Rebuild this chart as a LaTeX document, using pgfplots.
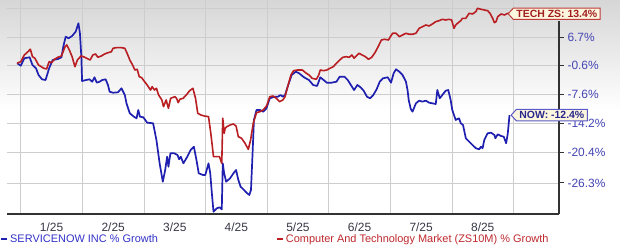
\documentclass[border=0pt]{standalone}
\usepackage{pgfplots}
\pgfplotsset{compat=1.18}
\usepackage{pgfplotstable}
\usepackage{fontspec}
\setmainfont{Liberation Sans}
\usetikzlibrary{shapes.symbols}
\definecolor{nowline}{RGB}{32,32,176}
\definecolor{techline}{RGB}{185,30,35}
\definecolor{ylab}{RGB}{68,68,180}
\definecolor{xlab}{RGB}{55,55,70}
\definecolor{legblue}{RGB}{50,50,200}
\definecolor{legred}{RGB}{190,40,45}
\definecolor{boxfill}{RGB}{253,246,222}
\definecolor{techborder}{RGB}{190,60,60}
\definecolor{techtext}{RGB}{160,30,30}
\definecolor{nowborder}{RGB}{90,90,200}
\definecolor{nowtext}{RGB}{40,40,140}
\definecolor{axisdark}{RGB}{50,50,50}
\definecolor{gridc}{RGB}{205,205,205}

\pgfplotstableread{
x y
-0.06 0.0
0.00 -0.65
0.057 1.25
0.143 1.51
0.19 -0.47
0.247 -1.30
0.288 -2.97
0.345 -4.03
0.402 -4.20
0.46 -1.30
0.517 0.81
0.603 1.07
0.66 1.51
0.69 4.29
0.729 6.98
0.776 6.54
0.833 7.17
0.891 8.34
0.936 10.69
0.96 7.91
0.983 1.66
0.995 -4.44
1.061 -4.20
1.115 -4.03
1.159 -4.61
1.197 -3.54
1.234 -4.85
1.279 -4.61
1.323 -4.20
1.377 -4.03
1.415 -5.41
1.443 -7.01
1.497 -7.25
1.579 -7.15
1.634 -6.20
1.689 -7.79
1.716 -9.72
1.77 -11.99
1.836 -12.74
1.88 -13.10
1.907 -11.24
1.934 -12.74
1.989 -12.88
2.052 -14.06
2.148 -14.20
2.202 -17.77
2.254 -22.50
2.306 -26.05
2.344 -23.82
2.376 -21.19
2.397 -23.17
2.429 -20.51
2.492 -20.51
2.544 -20.85
2.571 -21.71
2.598 -21.19
2.64 -22.50
2.703 -21.19
2.757 -19.84
2.81 -19.16
2.852 -21.85
2.889 -24.45
2.957 -24.78
2.995 -24.78
3.048 -22.50
3.076 -24.45
3.102 -28.21
3.129 -31.50
3.182 -30.90
3.226 -30.72
3.263 -31.08
3.279 -22.50
3.302 -24.45
3.334 -26.05
3.398 -25.41
3.452 -24.45
3.495 -23.82
3.532 -25.73
3.569 -26.99
3.613 -27.47
3.666 -28.10
3.71 -28.52
3.737 -27.60
3.763 -20.51
3.785 -13.47
3.827 -11.24
3.882 -11.24
3.935 -11.62
3.989 -10.86
4.043 -8.56
4.122 -8.18
4.175 -8.18
4.217 -7.79
4.254 -8.18
4.29 -7.79
4.333 -5.82
4.397 -2.97
4.465 -2.15
4.519 -2.55
4.598 -3.54
4.678 -4.20
4.746 -5.41
4.81 -5.65
4.837 -4.61
4.862 -3.54
4.916 -4.20
4.968 -4.85
5.047 -4.85
5.125 -4.61
5.177 -3.39
5.255 -3.39
5.308 -4.20
5.359 -5.41
5.411 -6.61
5.464 -5.41
5.516 -5.96
5.567 -6.78
5.62 -8.18
5.672 -8.56
5.723 -7.79
5.777 -6.44
5.828 -4.61
5.88 -3.78
5.958 -3.54
6.011 -4.85
6.053 -2.55
6.092 -1.55
6.145 -2.15
6.198 -2.97
6.253 -4.61
6.279 -6.61
6.298 -8.95
6.331 -11.01
6.36 -11.62
6.415 -9.72
6.468 -9.11
6.521 -9.34
6.576 -9.11
6.629 -9.58
6.682 -9.72
6.737 -9.88
6.763 -6.61
6.802 -8.56
6.844 -7.79
6.898 -6.78
6.94 -6.61
6.979 -8.95
7.005 -11.24
7.061 -13.47
7.115 -13.10
7.143 -14.20
7.18 -14.57
7.225 -17.41
7.279 -18.12
7.333 -18.81
7.389 -19.49
7.443 -19.70
7.471 -19.16
7.497 -19.49
7.525 -17.77
7.579 -16.36
7.635 -16.23
7.689 -16.72
7.705 -17.41
7.743 -16.57
7.798 -16.93
7.841 -17.08
7.88 -18.46
7.907 -16.36
7.934 -12.40
}\nowdata

\pgfplotstableread{
x y
-0.06 0.0
0.00 0.37
0.057 2.10
0.116 2.96
0.155 3.60
0.19 1.66
0.229 1.25
0.288 -0.47
0.374 -1.30
0.419 -1.48
0.46 0.37
0.5 0.12
0.547 0.99
0.603 1.51
0.66 1.84
0.719 4.29
0.747 4.74
0.788 3.41
0.833 1.66
0.879 -0.90
0.919 0.81
0.978 1.84
1.016 1.66
1.07 1.25
1.126 0.81
1.169 2.10
1.213 2.36
1.251 1.51
1.307 1.84
1.361 2.36
1.415 2.70
1.471 2.96
1.497 3.86
1.552 4.02
1.634 4.02
1.689 3.86
1.726 2.55
1.77 0.81
1.815 -0.47
1.852 -1.73
1.89 -1.55
1.923 -3.39
1.962 -3.63
1.989 -4.20
2.052 -5.41
2.106 -6.61
2.132 -5.82
2.17 -6.61
2.202 -6.20
2.238 -7.79
2.29 -8.95
2.317 -10.49
2.36 -8.95
2.397 -10.86
2.433 -8.56
2.503 -8.18
2.529 -8.56
2.556 -9.58
2.583 -8.79
2.635 -8.56
2.687 -7.79
2.741 -6.78
2.794 -6.20
2.837 -8.56
2.873 -11.99
2.925 -12.37
2.979 -12.59
3.048 -12.74
3.085 -16.36
3.129 -21.19
3.182 -21.19
3.226 -21.19
3.263 -22.50
3.279 -13.10
3.302 -16.36
3.318 -15.28
3.344 -14.94
3.398 -14.57
3.452 -14.35
3.495 -14.79
3.532 -17.08
3.585 -17.41
3.64 -18.46
3.694 -19.70
3.731 -17.77
3.774 -14.20
3.827 -11.85
3.882 -11.62
3.935 -11.24
3.989 -10.34
4.043 -8.18
4.095 -8.02
4.148 -8.56
4.202 -9.34
4.254 -8.95
4.29 -8.18
4.333 -5.82
4.386 -2.97
4.429 -1.90
4.492 -1.73
4.571 -1.73
4.624 -2.40
4.678 -2.97
4.73 -3.78
4.798 -4.03
4.837 -2.97
4.862 -1.73
4.916 -1.90
4.968 -1.73
5.02 -1.30
5.073 -0.90
5.125 -0.03
5.177 0.81
5.23 1.51
5.281 1.66
5.333 1.51
5.375 2.10
5.411 1.25
5.448 1.84
5.489 2.55
5.542 2.10
5.594 1.66
5.645 0.99
5.698 1.51
5.75 2.70
5.802 4.29
5.855 6.08
5.906 6.27
5.969 6.08
6.0 6.98
6.037 7.91
6.092 7.91
6.145 6.98
6.198 7.44
6.253 7.91
6.306 7.63
6.36 7.63
6.415 7.91
6.468 9.29
6.521 9.73
6.576 10.21
6.629 9.93
6.682 10.49
6.737 11.14
6.79 11.42
6.844 11.82
6.898 11.62
6.952 11.82
6.995 11.62
7.033 9.29
7.061 10.21
7.103 10.86
7.143 11.42
7.169 12.10
7.225 12.10
7.279 13.54
7.333 13.34
7.389 14.01
7.415 15.00
7.471 14.70
7.525 14.50
7.579 14.30
7.618 13.54
7.661 12.10
7.689 10.86
7.716 11.14
7.743 12.56
7.798 13.34
7.852 13.05
7.907 13.54
7.934 13.40
}\techdata

\begin{document}
\begin{tikzpicture}
\path[use as bounding box] (0,0) rectangle (620bp,252bp);
\shade[top color=black!16, bottom color=white] (0,142bp) rectangle (620bp,252bp);
\begin{axis}[
  at={(7bp,38bp)}, anchor=south west,
  width=552bp, height=214bp, scale only axis,
  xmin=-0.224, xmax=8.738,
  y coord trafo/.code={\pgfmathparse{100*ln(1+#1/100)}},
  y coord inv trafo/.code={\pgfmathparse{100*(exp(#1/100)-1)}},
  ymin=-31.9, ymax=17.45,
  axis x line*=bottom, axis y line*=right,
  x axis line style={-, line width=2.5bp, axisdark},
  y axis line style={-, line width=2bp, axisdark, shorten >=21bp},
  xtick={0,1,2,3,4,5,6,7,8}, xticklabels={},
  extra x ticks={0.5,1.5,2.5,3.5,4.5,5.5,6.5,7.5},
  extra x tick labels={1/25,2/25,3/25,4/25,5/25,6/25,7/25,8/25},
  extra x tick style={grid=none},
  xtick style={draw=none},
  xticklabel style={font=\fontsize{12}{14}\selectfont, text=xlab},
  ytick={6.7,-0.6,-7.6,-14.2,-20.4,-26.3},
  yticklabels={6.7\%,-0.6\%,-7.6\%,-14.2\%,-20.4\%,-26.3\%},
  extra y ticks={15.1}, extra y tick labels={},
  extra y tick style={major tick length=0pt},
  ytick style={axisdark, line width=1bp},
  tick align=outside, major tick length=5bp,
  yticklabel style={font=\fontsize{12}{14}\selectfont, text=ylab, anchor=west, xshift=0bp},
  xmajorgrids=true, ymajorgrids=true,
  grid style={solid, draw=gridc, line width=0.8bp},
  legend columns=2,
  legend style={at={(-0.0127,-0.118)}, anchor=west, draw=none, fill=none,
    inner sep=0pt, font=\fontsize{11}{13}\selectfont,
    /tikz/every even column/.append style={column sep=116bp}},
  legend image code/.code={\draw[#1, line width=2bp] (0bp,0bp) -- (6bp,0bp);},
]
\addplot[nowline, line width=1.7bp, line join=round] table[x=x,y=y] {\nowdata};
\addlegendentry{\textcolor{legblue}{SERVICENOW INC \% Growth}}
\addplot[techline, line width=1.6bp, line join=round] table[x=x,y=y] {\techdata};
\addlegendentry{\textcolor{legred}{Computer And Technology Market (ZS10M) \% Growth}}
\coordinate (techpt) at (axis cs:7.934,13.4);
\coordinate (nowpt) at (axis cs:7.934,-12.4);
\end{axis}
\node[signal, signal to=west, signal pointer angle=95, draw=techborder, fill=boxfill,
  line width=1bp, inner xsep=3bp, inner ysep=2bp, anchor=west, text=techtext,
  font=\bfseries\fontsize{10.5}{12}\selectfont] at ([xshift=-2bp]techpt) {TECH ZS: 13.4\%};
\node[signal, signal to=west, signal pointer angle=95, draw=nowborder, fill=boxfill,
  line width=1bp, inner xsep=3bp, inner ysep=2bp, anchor=west, text=nowtext,
  font=\bfseries\fontsize{10.5}{12}\selectfont] at ([xshift=1bp]nowpt) {NOW: -12.4\%};
\end{tikzpicture}
\end{document}
